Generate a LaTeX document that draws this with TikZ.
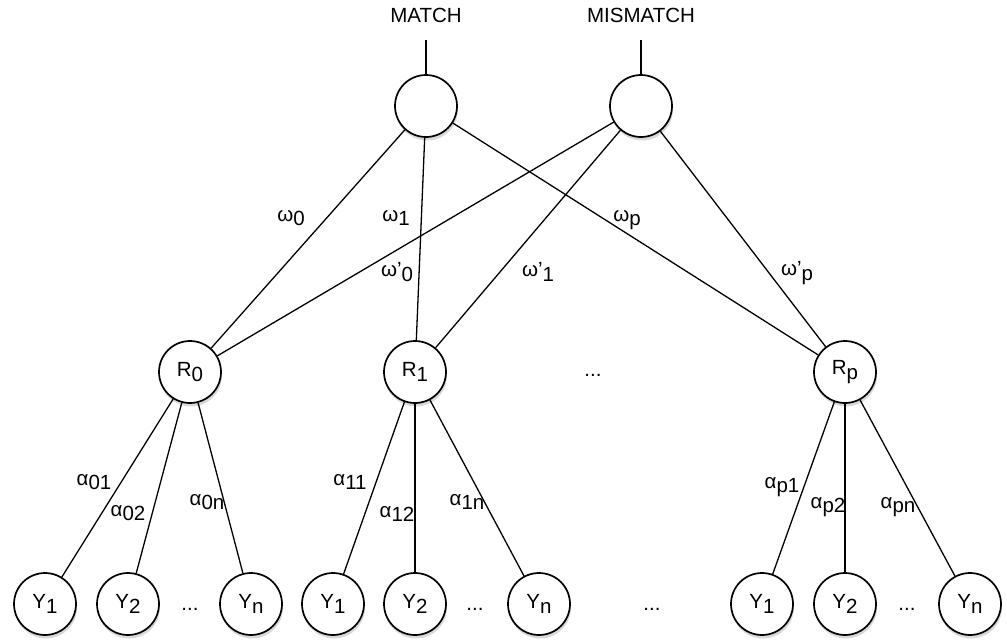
\documentclass[tikz,border=0pt]{standalone}
\usepackage{fontspec}
\setmainfont{Liberation Sans}
\usetikzlibrary{shadows}
\newcommand{\lo}[1]{\raisebox{-0.42ex}{#1}}
\begin{document}
\begin{tikzpicture}[x=1pt,y=-1pt,
  unit/.style={circle, draw, line width=1.7pt, fill=white, minimum size=62pt, inner sep=0pt,
    font=\fontsize{20.5}{20.5}\selectfont,
    drop shadow={opacity=0.3, shadow xshift=1pt, shadow yshift=-3.5pt}},
  lbl/.style={font=\fontsize{20.5}{20.5}\selectfont, inner sep=0pt},
  conn/.style={line width=1.3pt}]
\useasboundingbox (0,0) rectangle (1007,643);
% top
\node[lbl] (tm) at (426,15) {MATCH};
\node[lbl] (tmm) at (641,15) {MISMATCH};
\coordinate (sm) at (426,40);
\coordinate (smm) at (641,40);
\node[unit] (m) at (426,106) {};
\node[unit] (mm) at (641,106) {};
% middle
\node[unit] (r0) at (190,372) {R\lo{0}};
\node[unit] (r1) at (415,372) {R\lo{1}};
\node[unit] (rp) at (845,372) {R\lo{p}};
\node[lbl] (dm) at (593,375) {...};
% bottom
\node[unit] (y01) at (45,604) {Y\lo{1}};
\node[unit] (y02) at (128,604) {Y\lo{2}};
\node[unit] (y0n) at (251,604) {Y\lo{n}};
\node[unit] (y11) at (333,604) {Y\lo{1}};
\node[unit] (y12) at (415,604) {Y\lo{2}};
\node[unit] (y1n) at (539,604) {Y\lo{n}};
\node[unit] (yp1) at (762,604) {Y\lo{1}};
\node[unit] (yp2) at (845,604) {Y\lo{2}};
\node[unit] (ypn) at (970,604) {Y\lo{n}};
\node[lbl] (d0) at (190,609) {...};
\node[lbl] (d1) at (475,609) {...};
\node[lbl] (dp) at (907,609) {...};
\node[lbl] (db) at (652,609) {...};
% connectors
\draw[conn] (sm) -- (m);
\draw[conn] (smm) -- (mm);
\draw[conn] (m) -- (r0);
\draw[conn] (m) -- (r1);
\draw[conn] (m) -- (rp);
\draw[conn] (mm) -- (r0);
\draw[conn] (mm) -- (r1);
\draw[conn] (mm) -- (rp);
\draw[conn] (r0) -- (y01);
\draw[conn] (r0) -- (y02);
\draw[conn] (r0) -- (y0n);
\draw[conn] (r1) -- (y11);
\draw[conn] (r1) -- (y12);
\draw[conn] (r1) -- (y1n);
\draw[conn] (rp) -- (yp1);
\draw[conn] (rp) -- (yp2);
\draw[conn] (rp) -- (ypn);
% weight labels
\node[lbl] (w0) at (291,218) {ω\lo{0}};
\node[lbl] (w1) at (396,218) {ω\lo{1}};
\node[lbl] (wp) at (627,220) {ω\lo{p}};
\node[lbl] (v0) at (397,272) {ω'\lo{0}};
\node[lbl] (v1) at (538,272) {ω'\lo{1}};
\node[lbl] (vp) at (797,273) {ω'\lo{p}};
\node[lbl] (a01) at (94,482) {α\lo{01}};
\node[lbl] (a02) at (128,513) {α\lo{02}};
\node[lbl] (a0n) at (207,502) {α\lo{0n}};
\node[lbl] (a11) at (350,482) {α\lo{11}};
\node[lbl] (a12) at (397,514) {α\lo{12}};
\node[lbl] (a1n) at (467,502) {α\lo{1n}};
\node[lbl] (ap1) at (782,487) {α\lo{p1}};
\node[lbl] (ap2) at (828,507) {α\lo{p2}};
\node[lbl] (apn) at (898,507) {α\lo{pn}};
\end{tikzpicture}
\end{document}
